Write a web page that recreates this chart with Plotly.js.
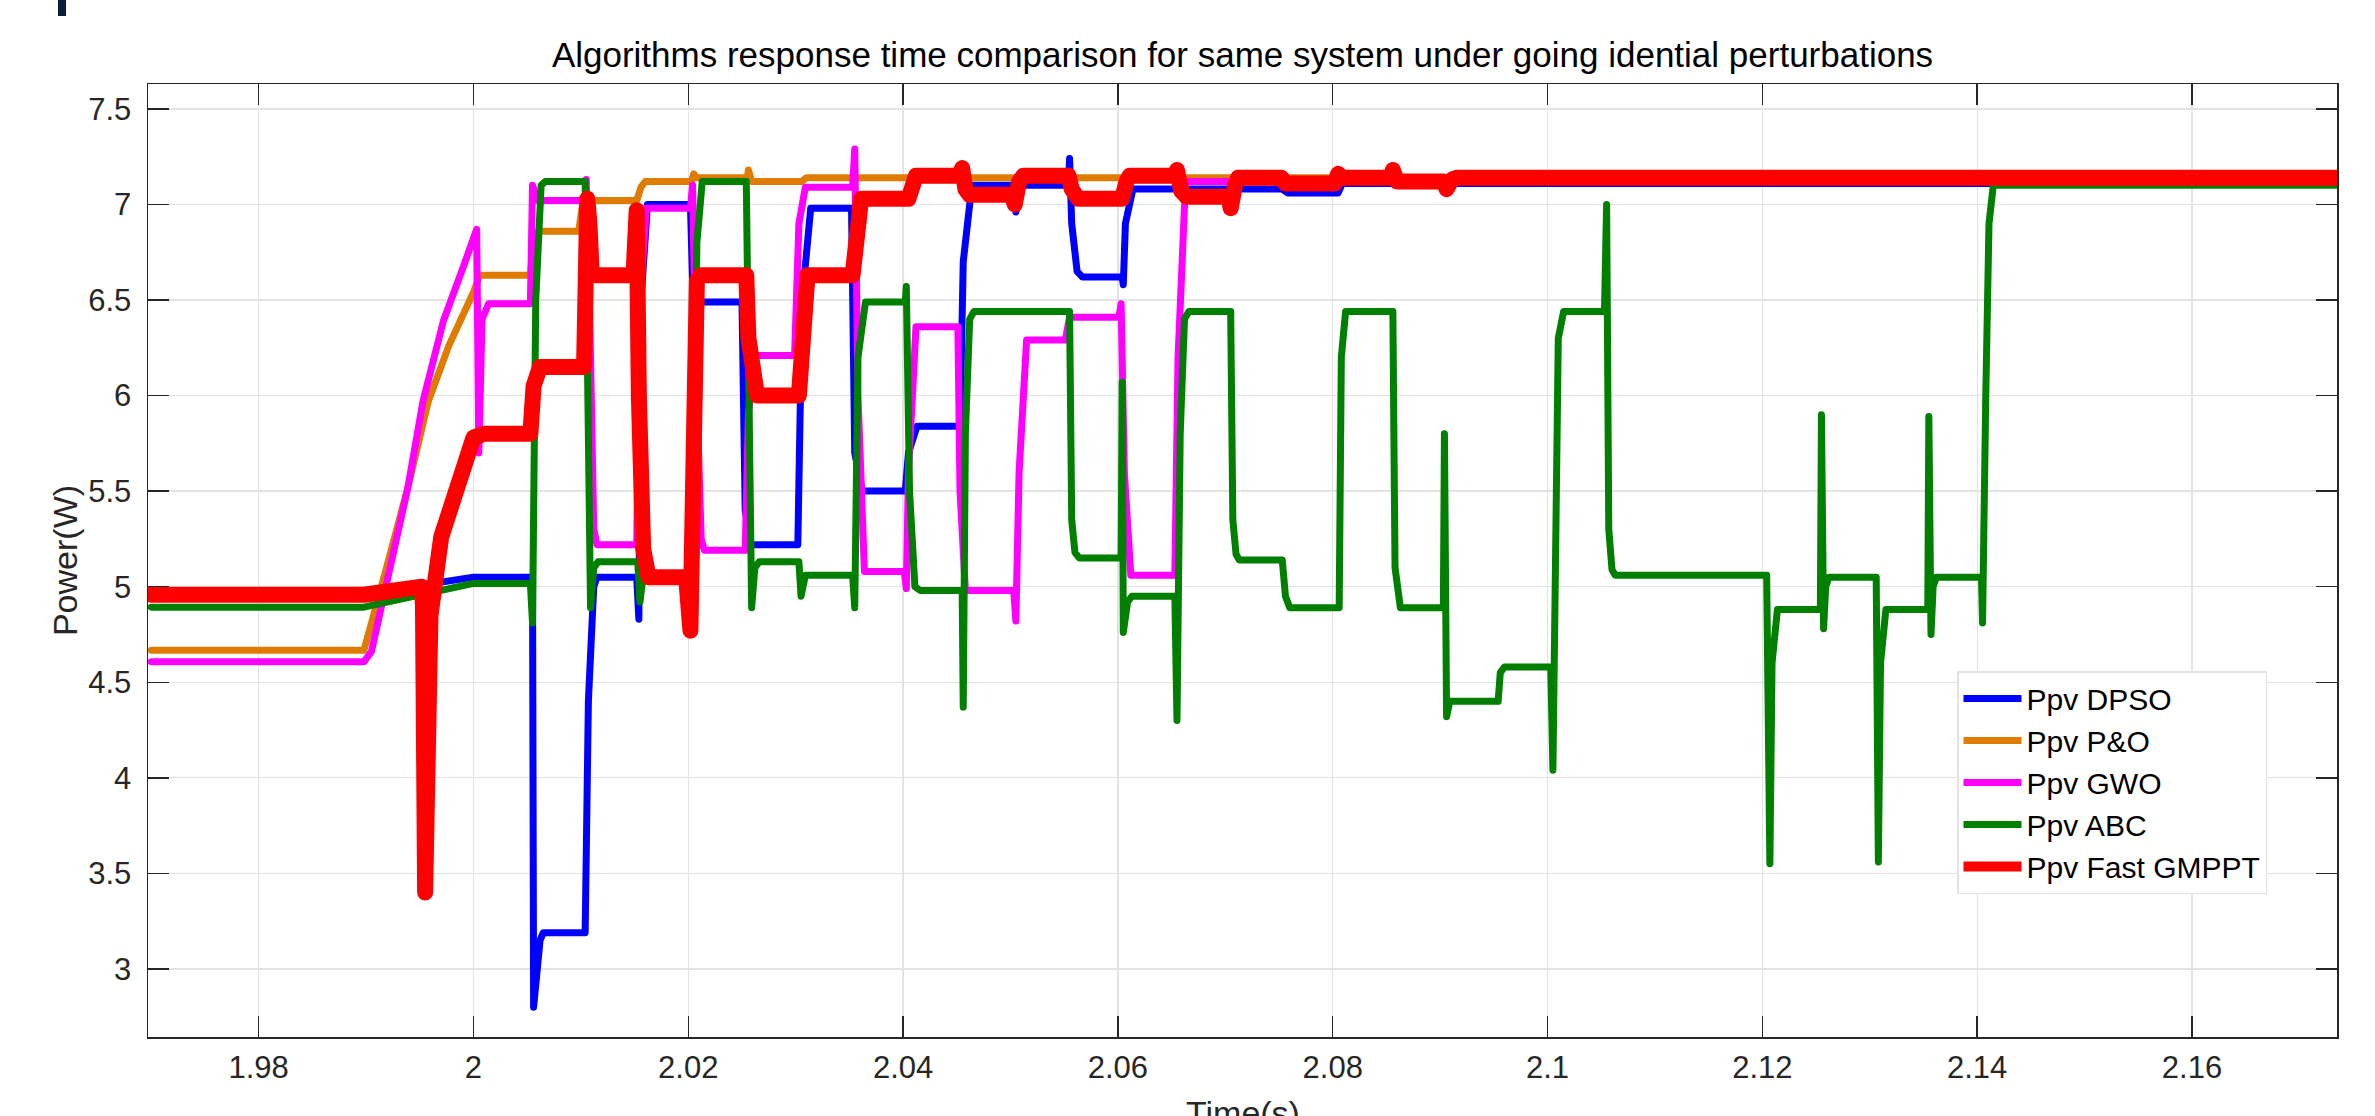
<!DOCTYPE html>
<html>
<head>
<meta charset="utf-8">
<script src="https://cdn.plot.ly/plotly-3.0.1.min.js"></script>
<style>
  html, body { margin: 0; padding: 0; background: #ffffff; }
  #chart { width: 2375px; height: 1116px; }
  .scatterlayer .js-line { stroke-linejoin: round; stroke-linecap: round; }
</style>
</head>
<body>
<div id="chart"></div>
<script>
// ---------------- data ----------------
const seriesNames = ["Ppv DPSO", "Ppv P&O", "Ppv GWO", "Ppv ABC", "Ppv Fast GMPPT"];
const seriesColors = ["#0000ff", "#df7c00", "#ff00ff", "#007f00", "#ff0000"];

const tDPSO = [1.97, 1.9898, 2.000, 2.0055, 2.0056, 2.0062, 2.0065, 2.0104, 2.0107, 2.0112, 2.0115, 2.0152, 2.0154, 2.0156, 2.0162, 2.0202, 2.0204, 2.0209, 2.0250, 2.0253, 2.0258, 2.0302, 2.0306, 2.0314, 2.0352, 2.0355, 2.0362, 2.0402, 2.0405, 2.0413, 2.0453, 2.0456, 2.0464, 2.0503, 2.0505, 2.0507, 2.0554, 2.0555, 2.0557, 2.0562, 2.0567, 2.0604, 2.0605, 2.0607, 2.0614, 2.0753, 2.0758, 2.0805, 2.0809, 2.1735];
const pDPSO = [4.96, 4.96, 5.05, 5.05, 2.80, 3.15, 3.19, 3.19, 4.4, 5.0, 5.05, 5.05, 4.83, 6.5, 7.0, 7.0, 6.6, 6.49, 6.49, 5.4, 5.22, 5.22, 6.5, 6.98, 6.98, 5.7, 5.5, 5.5, 5.7, 5.84, 5.84, 6.7, 7.1, 7.1, 6.96, 7.1, 7.1, 7.24, 6.9, 6.65, 6.62, 6.62, 6.58, 6.9, 7.08, 7.08, 7.06, 7.06, 7.11, 7.11];

const tPO = [1.97, 1.9898, 1.9912, 1.9925, 1.9939, 1.9958, 1.9977, 2.0000, 2.0006, 2.0053, 2.0056, 2.0060, 2.0098, 2.0101, 2.0105, 2.0152, 2.0156, 2.0160, 2.0203, 2.0205, 2.0208, 2.0255, 2.0256, 2.0259, 2.0306, 2.0310, 2.1735];
const pPO = [4.667, 4.667, 4.95, 5.22, 5.52, 5.97, 6.26, 6.54, 6.63, 6.63, 6.80, 6.86, 6.86, 6.98, 7.02, 7.02, 7.09, 7.12, 7.12, 7.16, 7.14, 7.14, 7.18, 7.12, 7.12, 7.14, 7.14];

const tGWO = [1.97, 1.9898, 1.9905, 1.9939, 1.9953, 1.9972, 1.9991, 2.0003, 2.0005, 2.0008, 2.0014, 2.0053, 2.0055, 2.0060, 2.0104, 2.0105, 2.0108, 2.0112, 2.0115, 2.0152, 2.0155, 2.0161, 2.0202, 2.0204, 2.0207, 2.0212, 2.0215, 2.0253, 2.0256, 2.0262, 2.0299, 2.0303, 2.0309, 2.0353, 2.0355, 2.0358, 2.0364, 2.0401, 2.0403, 2.0405, 2.0412, 2.0451, 2.0453, 2.0458, 2.0503, 2.0505, 2.0508, 2.0515, 2.0551, 2.0555, 2.0601, 2.0603, 2.0606, 2.0612, 2.0653, 2.0656, 2.0663, 2.1735];
const pGWO = [4.607, 4.607, 4.66, 5.52, 5.97, 6.39, 6.68, 6.87, 5.7, 6.4, 6.48, 6.48, 7.10, 7.02, 7.02, 7.13, 6.5, 5.3, 5.22, 5.22, 6.5, 6.98, 6.98, 7.1, 6.2, 5.25, 5.19, 5.19, 5.9, 6.21, 6.21, 6.9, 7.09, 7.09, 7.29, 6.0, 5.08, 5.08, 4.99, 5.6, 6.36, 6.36, 5.5, 4.98, 4.98, 4.82, 5.6, 6.29, 6.29, 6.41, 6.41, 6.48, 5.6, 5.06, 5.06, 6.2, 7.12, 7.12];

const tABC = [1.97, 1.9898, 2.0000, 2.0053, 2.0055, 2.0058, 2.0063, 2.0067, 2.0104, 2.0107, 2.0109, 2.0112, 2.0116, 2.0153, 2.0155, 2.0158, 2.0205, 2.0208, 2.0213, 2.0254, 2.0257, 2.0259, 2.0262, 2.0266, 2.0303, 2.0305, 2.0309, 2.0353, 2.0355, 2.0358, 2.0365, 2.0402, 2.0403, 2.0406, 2.0411, 2.0416, 2.0455, 2.0456, 2.0458, 2.0462, 2.0466, 2.0555, 2.0557, 2.0560, 2.0564, 2.0603, 2.0604, 2.0605, 2.0609, 2.0613, 2.0653, 2.0655, 2.0658, 2.0662, 2.0666, 2.0705, 2.0707, 2.0710, 2.0713, 2.0753, 2.0756, 2.0760, 2.0806, 2.0808, 2.0812, 2.0856, 2.0858, 2.0861, 2.0863, 2.0903, 2.0904, 2.0906, 2.0909, 2.0954, 2.0956, 2.0960, 2.1003, 2.1005, 2.1007, 2.1010, 2.1015, 2.1053, 2.1055, 2.1057, 2.1060, 2.1063, 2.1204, 2.1207, 2.1209, 2.1214, 2.1254, 2.1255, 2.1257, 2.1259, 2.1262, 2.1306, 2.1308, 2.1310, 2.1315, 2.1354, 2.1355, 2.1357, 2.1359, 2.1362, 2.1404, 2.1405, 2.1408, 2.1411, 2.1415, 2.1735];
const pABC = [4.893, 4.893, 5.017, 5.017, 4.81, 6.5, 7.10, 7.12, 7.12, 5.5, 4.89, 5.1, 5.13, 5.13, 4.92, 5.06, 5.06, 6.8, 7.12, 7.12, 5.5, 4.89, 5.1, 5.13, 5.13, 4.95, 5.06, 5.06, 4.89, 6.2, 6.49, 6.49, 6.57, 5.5, 5.0, 4.98, 4.98, 4.37, 5.8, 6.40, 6.44, 6.44, 5.35, 5.18, 5.15, 5.15, 6.07, 4.76, 4.92, 4.95, 4.95, 4.30, 5.8, 6.40, 6.44, 6.44, 5.35, 5.17, 5.14, 5.14, 4.95, 4.89, 4.89, 6.2, 6.44, 6.44, 5.1, 4.92, 4.89, 4.89, 5.80, 4.32, 4.40, 4.40, 4.55, 4.58, 4.58, 4.04, 5.0, 6.3, 6.44, 6.44, 7.0, 5.3, 5.09, 5.06, 5.06, 3.55, 4.6, 4.88, 4.88, 5.9, 4.78, 5.0, 5.05, 5.05, 3.56, 4.6, 4.88, 4.88, 5.89, 4.75, 5.0, 5.05, 5.05, 4.81, 6.0, 6.9, 7.10, 7.10];

const tFast = [1.97, 1.9898, 1.9952, 1.9953, 1.9955, 1.9957, 1.9960, 1.9970, 1.9985, 2.0000, 2.0010, 2.0053, 2.0056, 2.0062, 2.0103, 2.0105, 2.0106, 2.0108, 2.0110, 2.0113, 2.0149, 2.0152, 2.0154, 2.0158, 2.0163, 2.0198, 2.0202, 2.0204, 2.0208, 2.0212, 2.0254, 2.0256, 2.0260, 2.0264, 2.0303, 2.0307, 2.0311, 2.0353, 2.0356, 2.0361, 2.0405, 2.0409, 2.0412, 2.0452, 2.0455, 2.0458, 2.0462, 2.0501, 2.0504, 2.0508, 2.0512, 2.0554, 2.0557, 2.0563, 2.0604, 2.0608, 2.0611, 2.0653, 2.0655, 2.0659, 2.0664, 2.0703, 2.0705, 2.0709, 2.0712, 2.0752, 2.0756, 2.0802, 2.0805, 2.0809, 2.0854, 2.0856, 2.0860, 2.0903, 2.0906, 2.0911, 2.0916, 2.1735];
const pFast = [4.958, 4.958, 5.0, 4.9, 3.40, 4.5, 4.85, 5.26, 5.55, 5.78, 5.80, 5.80, 6.05, 6.15, 6.15, 6.9, 7.03, 6.9, 6.65, 6.63, 6.63, 6.97, 6.0, 5.2, 5.05, 5.05, 4.77, 5.8, 6.6, 6.63, 6.63, 6.3, 6.05, 6.0, 6.0, 6.4, 6.63, 6.63, 6.9, 7.03, 7.03, 7.12, 7.15, 7.15, 7.19, 7.08, 7.05, 7.05, 7.00, 7.12, 7.15, 7.15, 7.08, 7.03, 7.03, 7.12, 7.15, 7.15, 7.18, 7.07, 7.04, 7.04, 6.98, 7.10, 7.14, 7.14, 7.11, 7.11, 7.16, 7.14, 7.14, 7.18, 7.12, 7.12, 7.08, 7.13, 7.14, 7.14];

const xTickVals = [1.98, 2.00, 2.02, 2.04, 2.06, 2.08, 2.10, 2.12, 2.14, 2.16];
const xTickText = ["1.98", "2", "2.02", "2.04", "2.06", "2.08", "2.1", "2.12", "2.14", "2.16"];
const yTickVals = [3, 3.5, 4, 4.5, 5, 5.5, 6, 6.5, 7, 7.5];
const yTickText = ["3", "3.5", "4", "4.5", "5", "5.5", "6", "6.5", "7", "7.5"];

const titleText = "Algorithms response time comparison for same system under going idential perturbations";
const xTitle = "Time(s)";
const yTitle = "Power(W)";

// ---------------- build ----------------
const xs = [tDPSO, tPO, tGWO, tABC, tFast];
const ys = [pDPSO, pPO, pGWO, pABC, pFast];
const widths = [7, 7, 7, 7, 16];

const traces = xs.map((x, i) => ({
  type: "scatter",
  mode: "lines",
  x: x,
  y: ys[i],
  name: seriesNames[i],
  line: { color: seriesColors[i], width: widths[i], shape: "linear" },
  hoverinfo: "skip"
}));

const FONT = "Liberation Sans, Arial, Helvetica, sans-serif";
const axisCol = "#262626";

const layout = {
  width: 2375,
  height: 1116,
  paper_bgcolor: "#ffffff",
  plot_bgcolor: "#ffffff",
  margin: { l: 148, r: 38, t: 84, b: 79, pad: 0 },
  font: { family: FONT, size: 31, color: axisCol },
  title: {
    text: titleText,
    font: { family: FONT, size: 35, color: "#000000" },
    x: 0.5, xref: "paper", xanchor: "center",
    y: 1 - 55 / 1116, yref: "container", yanchor: "middle"
  },
  xaxis: {
    range: [1.9697, 2.1735],
    tickmode: "array", tickvals: xTickVals, ticktext: xTickText,
    ticks: "inside", ticklen: 21, tickwidth: 1.5, tickcolor: axisCol,
    showline: true, linecolor: axisCol, linewidth: 1.5, mirror: "ticks",
    showgrid: true, gridcolor: "#e3e3e3", gridwidth: 1.3,
    zeroline: false,
    tickfont: { family: FONT, size: 31, color: axisCol },
    ticklabelstandoff: 2
  },
  yaxis: {
    range: [2.644, 7.63],
    tickmode: "array", tickvals: yTickVals, ticktext: yTickText,
    ticks: "inside", ticklen: 21, tickwidth: 1.5, tickcolor: axisCol,
    showline: true, linecolor: axisCol, linewidth: 1.5, mirror: "ticks",
    showgrid: true, gridcolor: "#e3e3e3", gridwidth: 1.3,
    zeroline: false,
    tickfont: { family: FONT, size: 31, color: axisCol },
    ticklabelstandoff: 9,
    title: { text: yTitle, font: { family: FONT, size: 34, color: axisCol }, standoff: 0 }
  },
  // x-axis title: in the reference it sits partly below the picture's bottom edge
  annotations: [{
    text: xTitle, xref: "paper", yref: "paper",
    x: 0.5, y: -(1092 - 1037) / 953, xanchor: "center", yanchor: "top",
    showarrow: false, font: { family: FONT, size: 34, color: axisCol }
  }],
  showlegend: true,
  legend: {
    x: (1957 - 148) / 2189, xanchor: "left",
    y: 1 - (671 - 84) / 953, yanchor: "top",
    bgcolor: "#ffffff", bordercolor: "#e2e2e2", borderwidth: 1.5,
    font: { family: FONT, size: 30, color: "#000000" },
    itemwidth: 58, tracegroupgap: 0, traceorder: "normal"
  },
  shapes: [{
    type: "rect", xref: "paper", yref: "paper",
    x0: (58 - 148) / 2189, x1: (66 - 148) / 2189,
    y0: 1 + (84 - 16) / 953, y1: 1 + 84 / 953,
    fillcolor: "#0b1c3d", line: { width: 0 }, layer: "above"
  }]
};

Plotly.newPlot("chart", traces, layout, { staticPlot: true, displayModeBar: false });
</script>
</body>
</html>
